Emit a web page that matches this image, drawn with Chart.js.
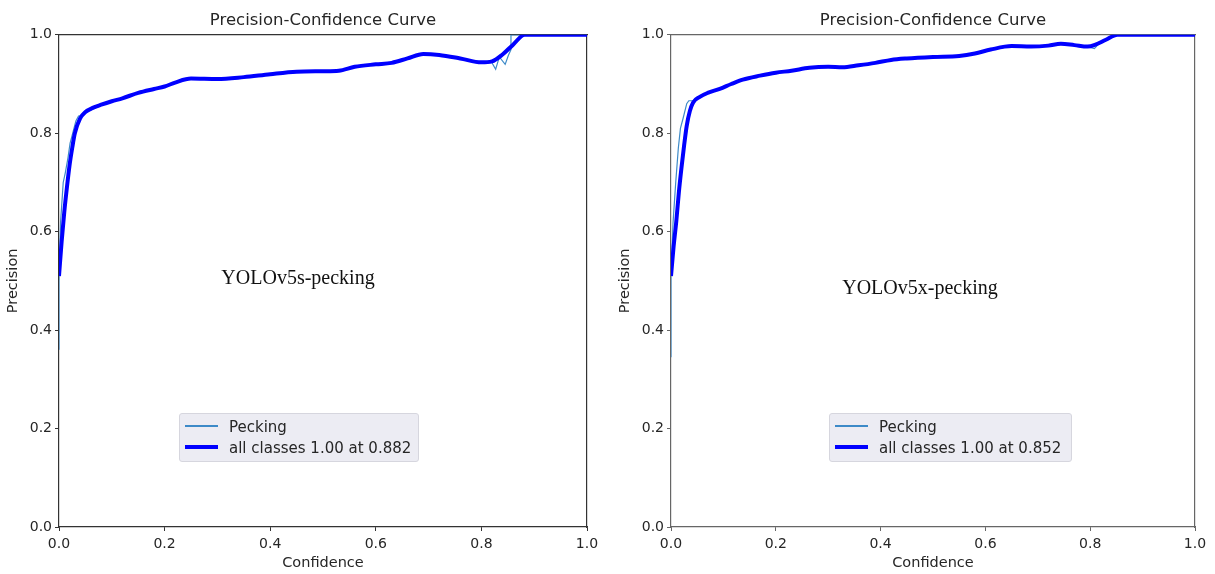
<!DOCTYPE html>
<html>
<head>
<meta charset="utf-8">
<script src="https://cdn.jsdelivr.net/npm/chart.js@4.4.1/dist/chart.umd.min.js"></script>
<style>
  html, body { margin: 0; padding: 0; background: #fff; }
  body { width: 1215px; height: 574px; position: relative; overflow: hidden; font-family: "DejaVu Sans", sans-serif; }
  .panel { position: absolute; top: 0; height: 574px; }
  .legend { position: absolute; background: rgba(235,235,242,0.95); border: 1px solid #d6d6de; border-radius: 3px; box-sizing: border-box; }
  .legend .sw { position: absolute; left: 5px; width: 33px; }
  .legend .tx { position: absolute; left: 49px; white-space: nowrap; font-size: 15px; color: #262626; line-height: 20px; }
  .note { position: absolute; transform: translate(-50%, -50%); font-family: "Liberation Serif", "Times New Roman", serif; font-size: 20px; color: #111; white-space: nowrap; }
</style>
</head>
<body>
<div class="panel" style="left:0;width:607px;"><canvas id="c1"></canvas></div>
<div class="panel" style="left:612px;width:603px;"><canvas id="c2"></canvas></div>

<div class="legend" style="left:179px;top:413px;width:240px;height:49px;">
  <div class="sw" style="top:11px;height:1.5px;background:#3d8ac8;"></div><div class="tx" style="top:3px;">Pecking</div>
  <div class="sw" style="top:31px;height:4px;background:#0000ff;"></div><div class="tx" style="top:24px;">all classes 1.00 at 0.882</div>
</div>
<div class="legend" style="left:829px;top:413px;width:243px;height:49px;">
  <div class="sw" style="top:11px;height:1.5px;background:#3d8ac8;"></div><div class="tx" style="top:3px;">Pecking</div>
  <div class="sw" style="top:31px;height:4px;background:#0000ff;"></div><div class="tx" style="top:24px;">all classes 1.00 at 0.852</div>
</div>
<div class="note" style="left:298px;top:277px;">YOLOv5s-pecking</div>
<div class="note" style="left:920px;top:287px;">YOLOv5x-pecking</div>

<script>
// ---------- data ----------
const xTicks = [0, 0.2, 0.4, 0.6, 0.8, 1.0];
const yTicks = [0, 0.2, 0.4, 0.6, 0.8, 1.0];

// YOLOv5s - Pecking (raw class curve)
const confPeckS = [0, 0, 0.003, 0.008, 0.012, 0.017, 0.021, 0.026, 0.032, 0.037, 0.045, 0.05, 0.07, 0.1, 0.12, 0.15, 0.18, 0.2, 0.22, 0.25, 0.3, 0.35, 0.4, 0.45, 0.5, 0.53, 0.56, 0.6, 0.63, 0.645, 0.66, 0.69, 0.72, 0.76, 0.8, 0.818, 0.827, 0.834, 0.845, 0.851, 0.856, 0.856, 1.0];
const precPeckS = [0.36, 0.5, 0.62, 0.70, 0.72, 0.75, 0.78, 0.80, 0.825, 0.835, 0.836, 0.842, 0.852, 0.866, 0.872, 0.882, 0.89, 0.895, 0.903, 0.911, 0.91, 0.914, 0.92, 0.925, 0.926, 0.927, 0.935, 0.94, 0.942, 0.946, 0.953, 0.961, 0.959, 0.952, 0.944, 0.947, 0.93, 0.955, 0.94, 0.958, 0.97, 1.0, 1.0];
// YOLOv5s - all classes
const confAllS = [0, 0.005, 0.01, 0.015, 0.02, 0.025, 0.03, 0.04, 0.05, 0.065, 0.08, 0.1, 0.12, 0.15, 0.18, 0.2, 0.22, 0.25, 0.3, 0.35, 0.4, 0.45, 0.5, 0.53, 0.56, 0.6, 0.63, 0.66, 0.69, 0.72, 0.76, 0.8, 0.82, 0.84, 0.86, 0.882, 1.0];
const precAllS = [0.51, 0.58, 0.64, 0.69, 0.735, 0.77, 0.80, 0.83, 0.843, 0.852, 0.858, 0.865, 0.871, 0.882, 0.89, 0.895, 0.903, 0.911, 0.91, 0.914, 0.92, 0.925, 0.926, 0.927, 0.935, 0.94, 0.943, 0.952, 0.961, 0.959, 0.952, 0.944, 0.946, 0.96, 0.98, 1.0, 1.0];

// YOLOv5x - Pecking (raw class curve)
const confPeckX = [0, 0, 0.004, 0.009, 0.014, 0.018, 0.023, 0.03, 0.034, 0.042, 0.055, 0.07, 0.093, 0.115, 0.137, 0.17, 0.2, 0.23, 0.264, 0.3, 0.327, 0.358, 0.39, 0.42, 0.45, 0.5, 0.55, 0.58, 0.61, 0.65, 0.687, 0.72, 0.744, 0.77, 0.795, 0.808, 0.815, 0.83, 0.845, 0.845, 1.0];
const precPeckX = [0.345, 0.51, 0.62, 0.70, 0.77, 0.81, 0.83, 0.86, 0.866, 0.866, 0.876, 0.882, 0.89, 0.90, 0.909, 0.917, 0.923, 0.927, 0.933, 0.935, 0.934, 0.938, 0.943, 0.949, 0.952, 0.955, 0.957, 0.962, 0.97, 0.977, 0.976, 0.978, 0.982, 0.979, 0.976, 0.972, 0.98, 0.99, 0.997, 1.0, 1.0];
// YOLOv5x - all classes
const confAllX = [0, 0.005, 0.01, 0.015, 0.02, 0.025, 0.03, 0.036, 0.042, 0.055, 0.07, 0.093, 0.115, 0.137, 0.17, 0.2, 0.23, 0.264, 0.3, 0.327, 0.358, 0.39, 0.42, 0.45, 0.5, 0.55, 0.58, 0.61, 0.65, 0.687, 0.72, 0.744, 0.77, 0.795, 0.81, 0.83, 0.852, 1.0];
const precAllX = [0.51, 0.57, 0.62, 0.68, 0.73, 0.775, 0.815, 0.845, 0.862, 0.874, 0.882, 0.89, 0.90, 0.909, 0.917, 0.923, 0.927, 0.933, 0.935, 0.934, 0.938, 0.943, 0.949, 0.952, 0.955, 0.957, 0.962, 0.97, 0.977, 0.976, 0.978, 0.982, 0.979, 0.976, 0.98, 0.99, 1.0, 1.0];

// ---------- chart ----------
Chart.defaults.font.family = "'DejaVu Sans', sans-serif";
Chart.defaults.color = '#262626';

function pts(xs, ys) { return xs.map((x, i) => ({ x: x, y: ys[i] })); }

function makeChart(id, cx, cy, ax, ay, spine) {
  const axisCommon = (which) => ({
    type: 'linear', min: 0, max: 1,
    afterBuildTicks: (s) => { s.ticks = (which === 'x' ? xTicks : yTicks).map(v => ({ value: v })); },
    ticks: { font: { size: 14 }, color: '#262626', padding: which === 'x' ? 5 : 3,
             callback: (v) => Number(v).toFixed(1), maxRotation: 0, autoSkip: false },
    grid: { display: true, drawOnChartArea: false, drawTicks: true, tickLength: 4, color: spine, lineWidth: 1 },
    border: { display: true, color: spine, width: 1.2 }
  });
  const xs = axisCommon('x');
  xs.position = 'bottom';
  xs.title = { display: true, text: 'Confidence', font: { size: 14.5 }, color: '#262626', padding: { top: 0, bottom: 2 } };
  xs.afterFit = (s) => { s.height = 47; };
  const ys = axisCommon('y');
  ys.position = 'left';
  ys.title = { display: true, text: 'Precision', font: { size: 14.5 }, color: '#262626', padding: { top: 5, bottom: 0 } };
  ys.afterFit = (s) => { s.width = 59; };

  return new Chart(document.getElementById(id), {
    type: 'line',
    data: {
      datasets: [
        { label: 'all classes', data: pts(ax, ay), borderColor: '#0000ff', borderWidth: 4, pointRadius: 0,
          cubicInterpolationMode: 'monotone', borderJoinStyle: 'round', order: 0, clip: 0 },
        { label: 'Pecking', data: pts(cx, cy), borderColor: '#3d8ac8', borderWidth: 1.2, pointRadius: 0,
          tension: 0, order: 1, clip: 0 }
      ]
    },
    options: {
      responsive: false, animation: false, events: [],
      layout: { padding: { left: 0, right: 20, top: 0, bottom: 0 } },
      plugins: {
        legend: { display: false }, tooltip: { enabled: false },
        title: { display: true, text: 'Precision-Confidence Curve', fullSize: false,
                 font: { size: 16.5, weight: 'normal' }, color: '#262626', padding: { top: 11, bottom: 4 } }
      },
      scales: {
        x: xs,
        y: ys,
        x2: { type: 'linear', position: 'top', min: 0, max: 1, ticks: { display: false }, grid: { display: false },
              border: { display: true, color: spine, width: 1.2 }, afterFit: (s) => { s.height = 0; } },
        y2: { type: 'linear', position: 'right', min: 0, max: 1, ticks: { display: false }, grid: { display: false },
              border: { display: true, color: spine, width: 1.2 }, afterFit: (s) => { s.width = 0; } }
      }
    }
  });
}

const cv1 = document.getElementById('c1'); cv1.width = 607; cv1.height = 574;
const cv2 = document.getElementById('c2'); cv2.width = 603; cv2.height = 574;
makeChart('c1', confPeckS, precPeckS, confAllS, precAllS, '#333');
makeChart('c2', confPeckX, precPeckX, confAllX, precAllX, '#666');
</script>
</body>
</html>
